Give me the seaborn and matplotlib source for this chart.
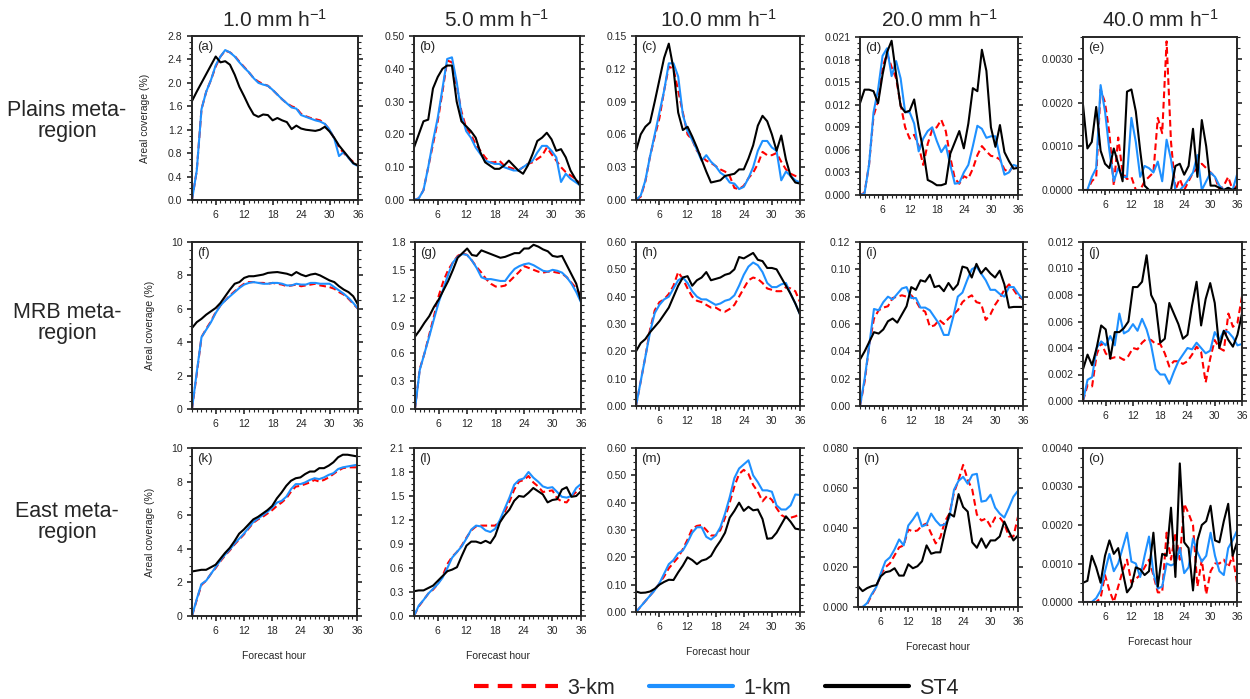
import numpy as np
import pandas as pd
import matplotlib
matplotlib.use("Agg")
import matplotlib.pyplot as plt
from matplotlib.ticker import FixedLocator, MultipleLocator, FormatStrFormatter, AutoMinorLocator
from matplotlib.lines import Line2D
import seaborn as sns

# ---------------------------------------------------------------- data
hours = list(range(1, 37))
models = ["3-km", "1-km", "ST4"]
thresholds = ["1.0", "5.0", "10.0", "20.0", "40.0"]
regions = ["Plains meta-\nregion", "MRB meta-\nregion", "East meta-\nregion"]

# Plains meta-region
a_3km = [0.0, 0.5, 1.55, 1.85, 2.05, 2.28, 2.45, 2.55, 2.52, 2.46, 2.36, 2.27, 2.18, 2.08, 2.02, 1.98, 1.95, 1.88,
         1.8, 1.72, 1.65, 1.6, 1.57, 1.47, 1.43, 1.4, 1.38, 1.36, 1.3, 1.2, 1.05, 0.9, 0.8, 0.72, 0.65, 0.6]
a_1km = [0.0, 0.5, 1.55, 1.85, 2.05, 2.3, 2.45, 2.56, 2.52, 2.45, 2.35, 2.26, 2.18, 2.08, 2.0, 1.97, 1.95, 1.88,
         1.8, 1.72, 1.65, 1.58, 1.56, 1.45, 1.42, 1.39, 1.36, 1.34, 1.3, 1.2, 1.05, 0.75, 0.82, 0.72, 0.62, 0.58]
a_st4 = [1.69, 1.85, 2.0, 2.15, 2.3, 2.45, 2.35, 2.37, 2.31, 2.14, 1.93, 1.77, 1.6, 1.46, 1.42, 1.46, 1.45, 1.36,
         1.4, 1.36, 1.33, 1.21, 1.27, 1.22, 1.2, 1.19, 1.18, 1.2, 1.25, 1.17, 1.06, 0.93, 0.83, 0.73, 0.63, 0.59]

b_3km = [0.0, 0.005, 0.03, 0.1, 0.17, 0.24, 0.33, 0.425, 0.42, 0.35, 0.27, 0.22, 0.2, 0.17, 0.15, 0.13, 0.115, 0.115,
         0.12, 0.105, 0.1, 0.095, 0.09, 0.1, 0.11, 0.115, 0.125, 0.135, 0.16, 0.14, 0.12, 0.1, 0.085, 0.075, 0.065, 0.05]
b_1km = [0.0, 0.005, 0.03, 0.1, 0.18, 0.25, 0.34, 0.43, 0.435, 0.36, 0.26, 0.21, 0.19, 0.16, 0.14, 0.12, 0.115, 0.11,
         0.11, 0.1, 0.095, 0.09, 0.09, 0.1, 0.11, 0.12, 0.145, 0.165, 0.165, 0.15, 0.13, 0.055, 0.08, 0.065, 0.055, 0.045]
b_st4 = [0.16, 0.2, 0.24, 0.245, 0.34, 0.375, 0.4, 0.41, 0.41, 0.3, 0.24, 0.225, 0.21, 0.19, 0.145, 0.115, 0.105, 0.095,
         0.095, 0.105, 0.12, 0.105, 0.09, 0.08, 0.105, 0.14, 0.18, 0.19, 0.205, 0.185, 0.15, 0.155, 0.13, 0.09, 0.065, 0.045]

c_3km = [0.0, 0.003, 0.017, 0.04, 0.058, 0.075, 0.1, 0.122, 0.12, 0.1, 0.08, 0.06, 0.055, 0.045, 0.04, 0.036, 0.034, 0.031,
         0.028, 0.026, 0.022, 0.011, 0.01, 0.013, 0.02, 0.025, 0.033, 0.044, 0.041, 0.041, 0.043, 0.035, 0.028, 0.024, 0.022, 0.021]
c_1km = [0.0, 0.004, 0.018, 0.04, 0.06, 0.08, 0.1, 0.125, 0.125, 0.113, 0.078, 0.063, 0.055, 0.046, 0.036, 0.041, 0.035, 0.031,
         0.025, 0.022, 0.016, 0.015, 0.01, 0.012, 0.02, 0.03, 0.045, 0.054, 0.054, 0.048, 0.045, 0.018, 0.026, 0.022, 0.018, 0.016]
c_st4 = [0.045, 0.06, 0.067, 0.071, 0.09, 0.11, 0.13, 0.143, 0.12, 0.08, 0.064, 0.067, 0.058, 0.048, 0.037, 0.026, 0.016, 0.017,
         0.018, 0.022, 0.023, 0.024, 0.028, 0.028, 0.038, 0.05, 0.068, 0.077, 0.072, 0.06, 0.045, 0.059, 0.037, 0.022, 0.016, 0.015]

d_3km = [0.0, 0.0003, 0.004, 0.0105, 0.0125, 0.017, 0.0188, 0.017, 0.0155, 0.012, 0.009, 0.0075, 0.008, 0.0065, 0.004, 0.0068,
         0.0087, 0.009, 0.01, 0.0085, 0.005, 0.0022, 0.0015, 0.0025, 0.0022, 0.0035, 0.0053, 0.0065, 0.0058, 0.0052, 0.0051,
         0.0047, 0.0034, 0.003, 0.004, 0.0037]
d_1km = [0.0, 0.0002, 0.004, 0.011, 0.014, 0.0185, 0.0195, 0.0158, 0.0178, 0.0155, 0.011, 0.011, 0.0095, 0.0058, 0.0075, 0.0085,
         0.009, 0.0072, 0.0057, 0.0066, 0.004, 0.0015, 0.0016, 0.003, 0.004, 0.0065, 0.0092, 0.0088, 0.0076, 0.0078, 0.0078,
         0.005, 0.0027, 0.003, 0.004, 0.0038]
d_st4 = [0.0122, 0.014, 0.014, 0.0138, 0.0122, 0.016, 0.019, 0.0205, 0.016, 0.0118, 0.011, 0.0112, 0.0127, 0.009, 0.006, 0.002,
         0.0017, 0.0013, 0.0013, 0.0015, 0.0055, 0.007, 0.0085, 0.0062, 0.0095, 0.0142, 0.0138, 0.0193, 0.0165, 0.009, 0.0064,
         0.0093, 0.0057, 0.0045, 0.0035, 0.0036]

e_3km = [0.0, 0.0, 0.0002, 0.0003, 0.0023, 0.002, 0.0013, 0.0001, 0.0012, 0.0004, 0.00025, 0.0003, 0.0, 0.0, 0.0002, 0.0003,
         0.0004, 0.00165, 0.0013, 0.0034, 0.0011, 0.0, 0.00025, 0.0, 0.0002, 0.0004, 0.0005, 0.0006, 0.0005, 0.0004, 0.0003,
         0.0, 0.0001, 0.0003, 0.0, 0.0001]
e_1km = [0.0, 0.0, 0.0003, 0.0005, 0.0024, 0.0018, 0.0009, 0.0002, 0.0005, 0.0003, 0.0003, 0.00165, 0.0011, 0.0003, 0.00055,
         0.0005, 0.0004, 0.00065, 0.0002, 0.00115, 0.0007, 0.0, 0.0, 0.0001, 0.00025, 0.0004, 0.0008, 0.0, 0.0002, 0.0004,
         0.0003, 0.0001, 0.0, 0.00005, 0.0, 0.00035]
e_st4 = [0.00195, 0.00095, 0.0011, 0.0019, 0.0009, 0.0006, 0.0005, 0.00095, 0.0006, 0.0002, 0.00225, 0.0023, 0.0018, 0.0009,
         0.0001, 0.0, 0.0, 0.0, 0.0, 0.0, 0.0, 0.00055, 0.0006, 0.00035, 0.00055, 0.0014, 0.0003, 0.0016, 0.001, 0.0001,
         0.0001, 0.00005, 0.0, 0.00005, 0.0, 0.00005]

# MRB meta-region
f_3km = [0.0, 2.1, 4.3, 4.8, 5.25, 5.8, 6.2, 6.5, 6.8, 7.05, 7.3, 7.5, 7.6, 7.6, 7.55, 7.55, 7.5, 7.55,
         7.5, 7.45, 7.35, 7.4, 7.45, 7.35, 7.4, 7.45, 7.5, 7.4, 7.35, 7.3, 7.2, 7.0, 6.85, 6.6, 6.3, 6.0]
f_1km = [0.0, 2.2, 4.3, 4.75, 5.2, 5.75, 6.2, 6.5, 6.75, 7.0, 7.25, 7.45, 7.55, 7.6, 7.55, 7.5, 7.5, 7.55,
         7.55, 7.5, 7.4, 7.4, 7.5, 7.45, 7.45, 7.55, 7.55, 7.5, 7.5, 7.5, 7.3, 7.1, 6.9, 6.65, 6.35, 6.0]
f_st4 = [4.85, 5.2, 5.4, 5.65, 5.85, 6.05, 6.35, 6.75, 7.15, 7.5, 7.6, 7.85, 7.95, 7.95, 8.0, 8.05, 8.15, 8.18,
         8.2, 8.15, 8.1, 8.0, 8.2, 8.05, 7.95, 8.05, 8.1, 8.0, 7.85, 7.7, 7.6, 7.35, 7.15, 7.0, 6.75, 6.25]

g_3km = [0.0, 0.43, 0.6, 0.8, 1.0, 1.22, 1.38, 1.5, 1.58, 1.65, 1.68, 1.66, 1.6, 1.53, 1.47, 1.4, 1.35, 1.32,
         1.32, 1.33, 1.38, 1.43, 1.48, 1.54, 1.52, 1.5, 1.48, 1.47, 1.48, 1.48, 1.47, 1.46, 1.42, 1.36, 1.3, 1.22]
g_1km = [0.0, 0.42, 0.6, 0.78, 0.97, 1.15, 1.3, 1.45, 1.58, 1.64, 1.67, 1.66, 1.6, 1.52, 1.42, 1.4, 1.4, 1.39,
         1.38, 1.38, 1.45, 1.51, 1.54, 1.56, 1.57, 1.55, 1.52, 1.49, 1.48, 1.5, 1.49, 1.47, 1.42, 1.35, 1.26, 1.15]
g_st4 = [0.78, 0.85, 0.93, 1.0, 1.1, 1.18, 1.28, 1.38, 1.5, 1.63, 1.68, 1.73, 1.66, 1.65, 1.71, 1.69, 1.67, 1.65,
         1.63, 1.64, 1.66, 1.68, 1.68, 1.73, 1.73, 1.77, 1.75, 1.72, 1.7, 1.65, 1.64, 1.65, 1.55, 1.45, 1.35, 1.16]

h_3km = [0.0, 0.09, 0.18, 0.28, 0.35, 0.38, 0.39, 0.41, 0.44, 0.49, 0.465, 0.43, 0.4, 0.385, 0.38, 0.37, 0.36, 0.36,
         0.35, 0.345, 0.355, 0.37, 0.4, 0.43, 0.46, 0.47, 0.465, 0.45, 0.43, 0.425, 0.42, 0.42, 0.435, 0.43, 0.42, 0.38]
h_1km = [0.0, 0.09, 0.18, 0.27, 0.34, 0.37, 0.39, 0.4, 0.43, 0.46, 0.47, 0.45, 0.42, 0.4, 0.39, 0.39, 0.38, 0.37,
         0.375, 0.385, 0.39, 0.405, 0.44, 0.48, 0.51, 0.525, 0.515, 0.49, 0.45, 0.435, 0.435, 0.445, 0.45, 0.41, 0.375, 0.335]
h_st4 = [0.2, 0.23, 0.245, 0.27, 0.29, 0.31, 0.335, 0.36, 0.4, 0.44, 0.47, 0.475, 0.44, 0.46, 0.47, 0.49, 0.46, 0.465,
         0.47, 0.48, 0.485, 0.5, 0.545, 0.54, 0.55, 0.56, 0.535, 0.53, 0.505, 0.505, 0.5, 0.47, 0.44, 0.41, 0.375, 0.335]

i_3km = [0.0, 0.018, 0.045, 0.064, 0.07, 0.072, 0.073, 0.079, 0.08, 0.081, 0.08, 0.081, 0.077, 0.071, 0.069, 0.058, 0.059, 0.063,
         0.06, 0.064, 0.067, 0.07, 0.076, 0.079, 0.081, 0.076, 0.075, 0.063, 0.067, 0.074, 0.079, 0.085, 0.089, 0.085, 0.08, 0.078]
i_1km = [0.0, 0.02, 0.045, 0.071, 0.07, 0.076, 0.08, 0.078, 0.082, 0.086, 0.087, 0.079, 0.079, 0.072, 0.072, 0.07, 0.065, 0.06,
         0.052, 0.052, 0.065, 0.08, 0.083, 0.092, 0.1, 0.102, 0.097, 0.092, 0.085, 0.085, 0.082, 0.08, 0.087, 0.087, 0.082, 0.078]
i_st4 = [0.034, 0.04, 0.047, 0.054, 0.053, 0.056, 0.062, 0.064, 0.061, 0.067, 0.073, 0.087, 0.085, 0.092, 0.091, 0.096, 0.087, 0.088,
         0.084, 0.09, 0.085, 0.089, 0.102, 0.101, 0.094, 0.104, 0.097, 0.101, 0.097, 0.094, 0.099, 0.089, 0.072, 0.0725, 0.0725, 0.0725]

j_3km = [0.0, 0.0012, 0.0011, 0.0035, 0.0044, 0.0036, 0.0032, 0.0033, 0.0033, 0.0031, 0.0034, 0.004, 0.0039, 0.0044, 0.0047,
         0.0046, 0.0043, 0.0043, 0.0036, 0.0026, 0.003, 0.003, 0.0028, 0.003, 0.0035, 0.0041, 0.0037, 0.0014, 0.0032, 0.0046,
         0.004, 0.0038, 0.0066, 0.0056, 0.0059, 0.0079]
j_1km = [0.0, 0.0016, 0.0018, 0.004, 0.0045, 0.0042, 0.0049, 0.0042, 0.0066, 0.0051, 0.0053, 0.0058, 0.0053, 0.0062, 0.0054,
         0.0042, 0.0024, 0.002, 0.002, 0.0013, 0.0022, 0.003, 0.0035, 0.004, 0.0039, 0.0044, 0.004, 0.0036, 0.0038, 0.0052,
         0.0046, 0.0053, 0.0052, 0.0048, 0.0042, 0.0043]
j_st4 = [0.0024, 0.0035, 0.0027, 0.004, 0.0057, 0.0054, 0.0032, 0.0052, 0.0052, 0.0055, 0.006, 0.0086, 0.0086, 0.009, 0.011,
         0.008, 0.0073, 0.0044, 0.0047, 0.0074, 0.0066, 0.0058, 0.0047, 0.005, 0.0072, 0.009, 0.0057, 0.0077, 0.0089, 0.0074,
         0.004, 0.0053, 0.0046, 0.0041, 0.005, 0.0066]

# East meta-region
k_3km = [0.0, 0.95, 1.85, 2.1, 2.5, 2.85, 3.25, 3.6, 3.9, 4.25, 4.55, 4.85, 5.2, 5.55, 5.75, 5.9, 6.1, 6.3,
         6.55, 6.75, 7.0, 7.4, 7.7, 7.75, 7.85, 7.95, 8.1, 8.0, 8.1, 8.25, 8.45, 8.65, 8.8, 8.85, 8.85, 8.85]
k_1km = [0.0, 1.0, 1.9, 2.1, 2.5, 2.9, 3.3, 3.65, 3.95, 4.3, 4.6, 4.9, 5.25, 5.6, 5.8, 6.0, 6.2, 6.45,
         6.75, 6.85, 7.1, 7.55, 7.85, 7.85, 7.95, 8.1, 8.2, 8.15, 8.25, 8.4, 8.5, 8.75, 8.85, 8.9, 8.95, 9.0]
k_st4 = [2.65, 2.7, 2.75, 2.75, 2.9, 3.05, 3.4, 3.75, 4.05, 4.45, 4.9, 5.15, 5.45, 5.75, 5.9, 6.1, 6.3, 6.55,
         7.0, 7.35, 7.75, 8.05, 8.2, 8.25, 8.45, 8.6, 8.6, 8.8, 8.8, 8.95, 9.15, 9.45, 9.6, 9.6, 9.55, 9.5]

l_3km = [0.0, 0.12, 0.2, 0.28, 0.33, 0.4, 0.5, 0.65, 0.74, 0.8, 0.88, 0.98, 1.07, 1.12, 1.13, 1.13, 1.13, 1.13,
         1.18, 1.3, 1.43, 1.58, 1.68, 1.7, 1.75, 1.67, 1.62, 1.55, 1.56, 1.57, 1.47, 1.43, 1.42, 1.5, 1.55, 1.6]
l_1km = [0.0, 0.13, 0.2, 0.28, 0.34, 0.4, 0.48, 0.6, 0.73, 0.8, 0.87, 0.97, 1.08, 1.13, 1.12, 1.07, 1.05, 1.09,
         1.2, 1.34, 1.48, 1.64, 1.7, 1.72, 1.8, 1.73, 1.68, 1.62, 1.6, 1.61, 1.55, 1.49, 1.48, 1.5, 1.6, 1.65]
l_st4 = [0.31, 0.32, 0.32, 0.35, 0.38, 0.44, 0.5, 0.56, 0.58, 0.61, 0.75, 0.88, 0.93, 0.93, 0.91, 0.94, 0.91, 1.0,
         1.17, 1.26, 1.33, 1.44, 1.5, 1.49, 1.54, 1.6, 1.56, 1.52, 1.42, 1.45, 1.46, 1.58, 1.61, 1.49, 1.5, 1.56]

m_3km = [0.0, 0.02, 0.04, 0.06, 0.08, 0.105, 0.13, 0.16, 0.18, 0.2, 0.23, 0.265, 0.305, 0.315, 0.318, 0.3, 0.28, 0.28,
         0.3, 0.345, 0.4, 0.46, 0.505, 0.52, 0.505, 0.465, 0.44, 0.405, 0.425, 0.41, 0.38, 0.355, 0.345, 0.345, 0.35, 0.358]
m_1km = [0.0, 0.02, 0.04, 0.06, 0.08, 0.105, 0.14, 0.175, 0.19, 0.215, 0.225, 0.255, 0.29, 0.31, 0.31, 0.275, 0.265, 0.28,
         0.31, 0.36, 0.42, 0.49, 0.525, 0.54, 0.555, 0.5, 0.475, 0.445, 0.445, 0.44, 0.39, 0.375, 0.375, 0.39, 0.43, 0.428]
m_st4 = [0.075, 0.07, 0.071, 0.075, 0.085, 0.1, 0.11, 0.118, 0.117, 0.145, 0.17, 0.2, 0.19, 0.175, 0.188, 0.193, 0.205, 0.235,
         0.26, 0.29, 0.345, 0.37, 0.4, 0.37, 0.385, 0.372, 0.375, 0.34, 0.268, 0.27, 0.29, 0.32, 0.35, 0.33, 0.305, 0.302]

n_3km = [0.0, 0.0, 0.0015, 0.006, 0.01, 0.0165, 0.02, 0.022, 0.026, 0.03, 0.031, 0.039, 0.038, 0.0385, 0.041, 0.042, 0.037,
         0.032, 0.035, 0.043, 0.047, 0.0575, 0.064, 0.0715, 0.064, 0.059, 0.0465, 0.0435, 0.0445, 0.0405, 0.045, 0.045, 0.042,
         0.0355, 0.0355, 0.0455]
n_1km = [0.0, 0.0, 0.002, 0.0065, 0.01, 0.017, 0.023, 0.025, 0.029, 0.034, 0.031, 0.041, 0.044, 0.0475, 0.0405, 0.0415, 0.047,
         0.0435, 0.041, 0.0415, 0.045, 0.059, 0.0635, 0.0655, 0.062, 0.0665, 0.067, 0.053, 0.0535, 0.0565, 0.05, 0.047, 0.045,
         0.05, 0.0555, 0.0585]
n_st4 = [0.0105, 0.008, 0.0095, 0.0105, 0.011, 0.0155, 0.0175, 0.018, 0.0195, 0.0158, 0.0158, 0.0215, 0.0195, 0.0205, 0.023,
         0.031, 0.0268, 0.0275, 0.0275, 0.038, 0.047, 0.0455, 0.0568, 0.0503, 0.048, 0.0325, 0.0298, 0.0345, 0.0298, 0.0335,
         0.0335, 0.0355, 0.043, 0.038, 0.0335, 0.036]

o_3km = [0.0, 0.0, 0.0, 0.0, 0.0001, 0.0007, 0.0003, 0.0, 0.0004, 0.0008, 0.0011, 0.0005, 0.0006, 0.0007, 0.0009, 0.0011,
         0.0007, 0.00025, 0.00025, 0.0018, 0.0011, 0.0018, 0.0011, 0.00255, 0.0023, 0.002, 0.0004, 0.0011, 0.0002, 0.0008,
         0.001, 0.001, 0.0011, 0.0009, 0.0012, 0.0005]
o_1km = [0.0, 0.0, 0.0, 0.0001, 0.0003, 0.0008, 0.00125, 0.0008, 0.001, 0.0014, 0.0018, 0.00105, 0.001, 0.00065, 0.0012,
         0.0017, 0.00075, 0.00035, 0.0004, 0.001, 0.00095, 0.001, 0.0014, 0.00075, 0.0009, 0.00165, 0.0013, 0.00105, 0.0012,
         0.0018, 0.0012, 0.0008, 0.0007, 0.0014, 0.0016, 0.00185]
o_st4 = [0.0005, 0.00055, 0.0012, 0.0009, 0.0005, 0.0012, 0.0016, 0.00125, 0.0014, 0.0008, 0.00025, 0.0004, 0.0009, 0.00085,
         0.0007, 0.0008, 0.0018, 0.0004, 0.00125, 0.0012, 0.00245, 0.00065, 0.0036, 0.00155, 0.0014, 0.0003, 0.0016, 0.002,
         0.0021, 0.0025, 0.0016, 0.00155, 0.0021, 0.00255, 0.0012, 0.00155]

# y-axis: (upper limit, major step, label format)
y_axes = {
    "a": (2.8, 0.4, "%.1f"), "b": (0.5, 0.1, "%.2f"), "c": (0.15, 0.03, "%.2f"),
    "d": (0.021, 0.003, "%.3f"), "e": (0.0035, 0.001, "%.4f"),
    "f": (10, 2, "%d"), "g": (1.8, 0.3, "%.1f"), "h": (0.6, 0.1, "%.2f"),
    "i": (0.12, 0.02, "%.2f"), "j": (0.012, 0.002, "%.3f"),
    "k": (10, 2, "%d"), "l": (2.1, 0.3, "%.1f"), "m": (0.6, 0.1, "%.2f"),
    "n": (0.08, 0.02, "%.3f"), "o": (0.004, 0.001, "%.4f"),
}

series = {
    "a": (a_3km, a_1km, a_st4), "b": (b_3km, b_1km, b_st4), "c": (c_3km, c_1km, c_st4),
    "d": (d_3km, d_1km, d_st4), "e": (e_3km, e_1km, e_st4),
    "f": (f_3km, f_1km, f_st4), "g": (g_3km, g_1km, g_st4), "h": (h_3km, h_1km, h_st4),
    "i": (i_3km, i_1km, i_st4), "j": (j_3km, j_1km, j_st4),
    "k": (k_3km, k_1km, k_st4), "l": (l_3km, l_1km, l_st4), "m": (m_3km, m_1km, m_st4),
    "n": (n_3km, n_1km, n_st4), "o": (o_3km, o_1km, o_st4),
}

# ---------------------------------------------------------------- style
sns.set_style("ticks")
plt.rcParams["font.family"] = ["Liberation Sans", "DejaVu Sans"]
plt.rcParams["mathtext.default"] = "regular"

colors = {"3-km": "#FF0000", "1-km": "#1E90FF", "ST4": "#000000"}
dashes = {"3-km": (3.2, 1.8), "1-km": "", "ST4": ""}

W, H = 1250, 699
fig = plt.figure(figsize=(W / 100, H / 100), dpi=100)

# panel boxes in pixels: left, right, top, bottom
boxes = {
    "a": (192, 358, 36, 200), "b": (414, 580, 36, 200), "c": (636, 800, 36, 200),
    "d": (860, 1018, 37, 195), "e": (1083, 1237, 37, 190),
    "f": (192, 358, 242, 409), "g": (415, 581, 242, 409), "h": (636, 800, 242, 406),
    "i": (860, 1023, 242, 406), "j": (1083, 1242, 242, 401),
    "k": (192, 357, 448, 616), "l": (414, 581, 448, 616), "m": (636, 800, 448, 612),
    "n": (858, 1018, 448, 607), "o": (1083, 1237, 448, 602),
}
# horizontal pixel position of the y-axis title in each row of the first column
ylabel_x = [150, 155, 155]

letters = "abcdefghijklmno"
for idx, key in enumerate(letters):
    row, col = divmod(idx, 5)
    l, r, t, b = boxes[key]
    ax = fig.add_axes([l / W, 1 - b / H, (r - l) / W, (b - t) / H])

    df = pd.DataFrame({
        "hour": hours * 3,
        "value": [v for s in series[key] for v in s],
        "model": [m for m in models for _ in hours],
    })
    sns.lineplot(data=df, x="hour", y="value", hue="model", style="model",
                 hue_order=models, style_order=models, palette=colors, dashes=dashes,
                 estimator=None, linewidth=1.5, legend=False, ax=ax)

    ymax, step, fmt = y_axes[key]
    ax.set_xlim(1, 36)
    ax.set_ylim(0, ymax)
    ax.xaxis.set_major_locator(FixedLocator([6, 12, 18, 24, 30, 36]))
    ax.xaxis.set_minor_locator(MultipleLocator(1))
    yt = np.round(np.arange(0, ymax + step * 0.01, step), 6)
    ax.yaxis.set_major_locator(FixedLocator(yt))
    ax.yaxis.set_minor_locator(AutoMinorLocator(4))
    ax.yaxis.set_major_formatter(FormatStrFormatter(fmt))

    for s in ax.spines.values():
        s.set_linewidth(1.4)
    ax.tick_params(axis="both", which="major", direction="out", length=3.4, width=1.2,
                   labelsize=7.5, pad=3.5, top=False, right=True, labelright=False)
    ax.tick_params(axis="both", which="minor", direction="out", length=1.9, width=0.8,
                   top=False, right=True)

    ax.set_xlabel("")
    ax.set_ylabel("")
    if row == 2:
        ax.set_xlabel("Forecast hour", fontsize=7.5)
        ax.xaxis.set_label_coords(0.5, -35 / (b - t))
    if col == 0:
        ax.set_ylabel("Areal coverage (%)", fontsize=7.5)
        ax.yaxis.set_label_coords((ylabel_x[row] - l) / (r - l), 0.5)

    ax.text(5 / (r - l), 1 - 5 / (b - t), f"({key})", transform=ax.transAxes,
            ha="left", va="top", fontsize=9.5)

    if row == 0:
        fig.text((l + r) / 2 / W, 1 - 27 / H, f"{thresholds[col]} mm h$^{{-1}}$",
                 ha="center", va="baseline", fontsize=15)

# region names at the left of each row
for region, yc in zip(regions, [121, 323, 522]):
    fig.text(67 / W, 1 - yc / H, region, ha="center", va="center",
             fontsize=15.5, linespacing=1.05)

handles = [Line2D([], [], color=colors[m], lw=3, dashes=(3.5, 2.2) if m == "3-km" else (None, None))
           for m in models]
fig.legend(handles, models, loc="center", bbox_to_anchor=(716 / W, 1 - 688 / H),
           ncol=3, frameon=False, fontsize=15.5, handlelength=3.9, handletextpad=0.45,
           columnspacing=1.6)

fig.savefig("out.png", dpi=100)
